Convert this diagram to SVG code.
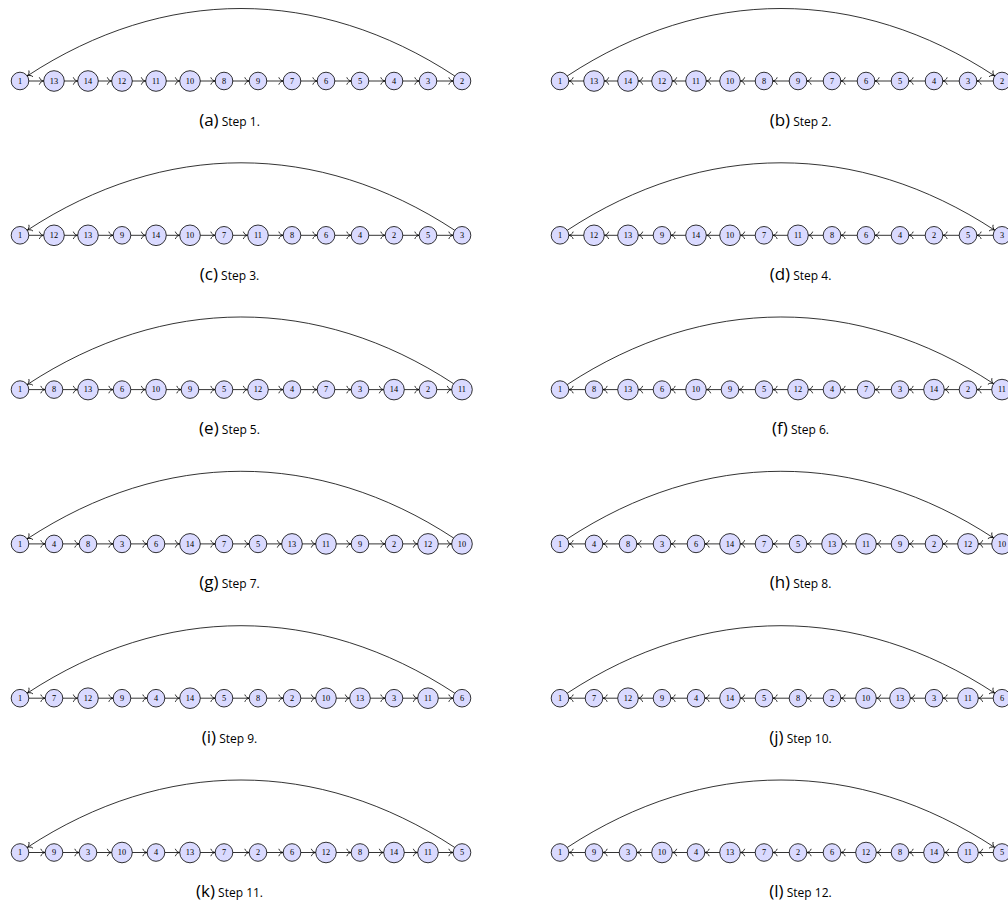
<svg xmlns="http://www.w3.org/2000/svg" width="1008" height="911" viewBox="0 0 1008 911">
<style>
.n circle{fill:#dadaff;stroke:#000;stroke-width:.8}
.n text{font-family:"Liberation Serif","DejaVu Serif",serif;font-size:8.3px;text-anchor:middle;fill:#000}
.c path{fill:none;stroke:#000;stroke-width:.8}
.ed{marker-end:url(#md)}
.es{marker-end:url(#ms)}
.ea{marker-end:url(#m0)}
.cap{font-family:"Open Sans",sans-serif;text-anchor:middle;fill:#000}
.cl{font-size:17px}
.cs{font-size:12px}
</style>
<defs>
<path id="ah" d="M-4.4-3.7C-3.8-1.3-1.5-.3 0 0C-1.5.3-3.8 1.3-4.4 3.7" fill="none" stroke="#000" stroke-width=".8"/>
<marker id="ms" markerUnits="userSpaceOnUse" markerWidth="10" markerHeight="10" refX="8.8" refY="0" orient="auto" overflow="visible"><use href="#ah"/></marker>
<marker id="md" markerUnits="userSpaceOnUse" markerWidth="10" markerHeight="10" refX="10.3" refY="0" orient="auto" overflow="visible"><use href="#ah"/></marker>
<marker id="m0" markerUnits="userSpaceOnUse" markerWidth="10" markerHeight="10" refX="0" refY="0" orient="auto" overflow="visible"><use href="#ah"/></marker>
</defs>
<rect width="1008" height="911" fill="#fff"/>
<g id="connectors" class="c">
<g transform="translate(0,0)">
<path class="ed" d="M20 81H54"/><path class="ed" d="M54 81H88"/><path class="ed" d="M88 81H122"/><path class="ed" d="M122 81H156"/><path class="ed" d="M156 81H190"/><path class="es" d="M190 81H224"/><path class="es" d="M224 81H258"/><path class="es" d="M258 81H292"/><path class="es" d="M292 81H326"/><path class="es" d="M326 81H360"/><path class="es" d="M360 81H394"/><path class="es" d="M394 81H428"/><path class="es" d="M428 81H462"/>
<path class="ea" d="M454.8 76C317.7-14 164.3-14 27.2 76"/>
</g>
<g transform="translate(540,0)">
<path class="es" d="M54 81H20"/><path class="ed" d="M88 81H54"/><path class="ed" d="M122 81H88"/><path class="ed" d="M156 81H122"/><path class="ed" d="M190 81H156"/><path class="ed" d="M224 81H190"/><path class="es" d="M258 81H224"/><path class="es" d="M292 81H258"/><path class="es" d="M326 81H292"/><path class="es" d="M360 81H326"/><path class="es" d="M394 81H360"/><path class="es" d="M428 81H394"/><path class="es" d="M462 81H428"/>
<path class="ea" d="M27.2 76C164.3-14 317.7-14 454.8 76"/>
</g>
<g transform="translate(0,154.3)">
<path class="ed" d="M20 81H54"/><path class="ed" d="M54 81H88"/><path class="es" d="M88 81H122"/><path class="ed" d="M122 81H156"/><path class="ed" d="M156 81H190"/><path class="es" d="M190 81H224"/><path class="ed" d="M224 81H258"/><path class="es" d="M258 81H292"/><path class="es" d="M292 81H326"/><path class="es" d="M326 81H360"/><path class="es" d="M360 81H394"/><path class="es" d="M394 81H428"/><path class="es" d="M428 81H462"/>
<path class="ea" d="M454.8 76C317.7-14 164.3-14 27.2 76"/>
</g>
<g transform="translate(540,154.3)">
<path class="es" d="M54 81H20"/><path class="ed" d="M88 81H54"/><path class="ed" d="M122 81H88"/><path class="es" d="M156 81H122"/><path class="ed" d="M190 81H156"/><path class="ed" d="M224 81H190"/><path class="es" d="M258 81H224"/><path class="ed" d="M292 81H258"/><path class="es" d="M326 81H292"/><path class="es" d="M360 81H326"/><path class="es" d="M394 81H360"/><path class="es" d="M428 81H394"/><path class="es" d="M462 81H428"/>
<path class="ea" d="M27.2 76C164.3-14 317.7-14 454.8 76"/>
</g>
<g transform="translate(0,308.6)">
<path class="es" d="M20 81H54"/><path class="ed" d="M54 81H88"/><path class="es" d="M88 81H122"/><path class="ed" d="M122 81H156"/><path class="es" d="M156 81H190"/><path class="es" d="M190 81H224"/><path class="ed" d="M224 81H258"/><path class="es" d="M258 81H292"/><path class="es" d="M292 81H326"/><path class="es" d="M326 81H360"/><path class="ed" d="M360 81H394"/><path class="es" d="M394 81H428"/><path class="ed" d="M428 81H462"/>
<path class="ea" d="M453.6 75.1C317.7-14 164.3-14 27.2 76"/>
</g>
<g transform="translate(540,308.6)">
<path class="es" d="M54 81H20"/><path class="es" d="M88 81H54"/><path class="ed" d="M122 81H88"/><path class="es" d="M156 81H122"/><path class="ed" d="M190 81H156"/><path class="es" d="M224 81H190"/><path class="es" d="M258 81H224"/><path class="ed" d="M292 81H258"/><path class="es" d="M326 81H292"/><path class="es" d="M360 81H326"/><path class="es" d="M394 81H360"/><path class="ed" d="M428 81H394"/><path class="es" d="M462 81H428"/>
<path class="ea" d="M27.2 76C164.3-14 317.7-14 453.6 75.1"/>
</g>
<g transform="translate(0,462.9)">
<path class="es" d="M20 81H54"/><path class="es" d="M54 81H88"/><path class="es" d="M88 81H122"/><path class="es" d="M122 81H156"/><path class="ed" d="M156 81H190"/><path class="es" d="M190 81H224"/><path class="es" d="M224 81H258"/><path class="ed" d="M258 81H292"/><path class="ed" d="M292 81H326"/><path class="es" d="M326 81H360"/><path class="es" d="M360 81H394"/><path class="ed" d="M394 81H428"/><path class="ed" d="M428 81H462"/>
<path class="ea" d="M453.6 75.1C317.7-14 164.3-14 27.2 76"/>
</g>
<g transform="translate(540,462.9)">
<path class="es" d="M54 81H20"/><path class="es" d="M88 81H54"/><path class="es" d="M122 81H88"/><path class="es" d="M156 81H122"/><path class="es" d="M190 81H156"/><path class="ed" d="M224 81H190"/><path class="es" d="M258 81H224"/><path class="es" d="M292 81H258"/><path class="ed" d="M326 81H292"/><path class="ed" d="M360 81H326"/><path class="es" d="M394 81H360"/><path class="es" d="M428 81H394"/><path class="ed" d="M462 81H428"/>
<path class="ea" d="M27.2 76C164.3-14 317.7-14 453.6 75.1"/>
</g>
<g transform="translate(0,617.2)">
<path class="es" d="M20 81H54"/><path class="ed" d="M54 81H88"/><path class="es" d="M88 81H122"/><path class="es" d="M122 81H156"/><path class="ed" d="M156 81H190"/><path class="es" d="M190 81H224"/><path class="es" d="M224 81H258"/><path class="es" d="M258 81H292"/><path class="ed" d="M292 81H326"/><path class="ed" d="M326 81H360"/><path class="es" d="M360 81H394"/><path class="ed" d="M394 81H428"/><path class="es" d="M428 81H462"/>
<path class="ea" d="M454.8 76C317.7-14 164.3-14 27.2 76"/>
</g>
<g transform="translate(540,617.2)">
<path class="es" d="M54 81H20"/><path class="es" d="M88 81H54"/><path class="ed" d="M122 81H88"/><path class="es" d="M156 81H122"/><path class="es" d="M190 81H156"/><path class="ed" d="M224 81H190"/><path class="es" d="M258 81H224"/><path class="es" d="M292 81H258"/><path class="es" d="M326 81H292"/><path class="ed" d="M360 81H326"/><path class="ed" d="M394 81H360"/><path class="es" d="M428 81H394"/><path class="ed" d="M462 81H428"/>
<path class="ea" d="M27.2 76C164.3-14 317.7-14 454.8 76"/>
</g>
<g transform="translate(0,771.5)">
<path class="es" d="M20 81H54"/><path class="es" d="M54 81H88"/><path class="ed" d="M88 81H122"/><path class="es" d="M122 81H156"/><path class="ed" d="M156 81H190"/><path class="es" d="M190 81H224"/><path class="es" d="M224 81H258"/><path class="es" d="M258 81H292"/><path class="ed" d="M292 81H326"/><path class="es" d="M326 81H360"/><path class="ed" d="M360 81H394"/><path class="ed" d="M394 81H428"/><path class="es" d="M428 81H462"/>
<path class="ea" d="M454.8 76C317.7-14 164.3-14 27.2 76"/>
</g>
<g transform="translate(540,771.5)">
<path class="es" d="M54 81H20"/><path class="es" d="M88 81H54"/><path class="es" d="M122 81H88"/><path class="ed" d="M156 81H122"/><path class="es" d="M190 81H156"/><path class="ed" d="M224 81H190"/><path class="es" d="M258 81H224"/><path class="es" d="M292 81H258"/><path class="es" d="M326 81H292"/><path class="ed" d="M360 81H326"/><path class="es" d="M394 81H360"/><path class="ed" d="M428 81H394"/><path class="ed" d="M462 81H428"/>
<path class="ea" d="M27.2 76C164.3-14 317.7-14 454.8 76"/>
</g>
</g>
<g id="nodes" class="n">
<g id="panel-a" transform="translate(0,0)">
<g id="a-1"><circle cx="20" cy="81" r="8.8"/><text x="20" y="83.9">1</text></g>
<g id="a-13"><circle cx="54" cy="81" r="10.3"/><text x="54" y="83.9">13</text></g>
<g id="a-14"><circle cx="88" cy="81" r="10.3"/><text x="88" y="83.9">14</text></g>
<g id="a-12"><circle cx="122" cy="81" r="10.3"/><text x="122" y="83.9">12</text></g>
<g id="a-11"><circle cx="156" cy="81" r="10.3"/><text x="156" y="83.9">11</text></g>
<g id="a-10"><circle cx="190" cy="81" r="10.3"/><text x="190" y="83.9">10</text></g>
<g id="a-8"><circle cx="224" cy="81" r="8.8"/><text x="224" y="83.9">8</text></g>
<g id="a-9"><circle cx="258" cy="81" r="8.8"/><text x="258" y="83.9">9</text></g>
<g id="a-7"><circle cx="292" cy="81" r="8.8"/><text x="292" y="83.9">7</text></g>
<g id="a-6"><circle cx="326" cy="81" r="8.8"/><text x="326" y="83.9">6</text></g>
<g id="a-5"><circle cx="360" cy="81" r="8.8"/><text x="360" y="83.9">5</text></g>
<g id="a-4"><circle cx="394" cy="81" r="8.8"/><text x="394" y="83.9">4</text></g>
<g id="a-3"><circle cx="428" cy="81" r="8.8"/><text x="428" y="83.9">3</text></g>
<g id="a-2"><circle cx="462" cy="81" r="8.8"/><text x="462" y="83.9">2</text></g>
</g>
<g id="panel-b" transform="translate(540,0)">
<g id="b-1"><circle cx="20" cy="81" r="8.8"/><text x="20" y="83.9">1</text></g>
<g id="b-13"><circle cx="54" cy="81" r="10.3"/><text x="54" y="83.9">13</text></g>
<g id="b-14"><circle cx="88" cy="81" r="10.3"/><text x="88" y="83.9">14</text></g>
<g id="b-12"><circle cx="122" cy="81" r="10.3"/><text x="122" y="83.9">12</text></g>
<g id="b-11"><circle cx="156" cy="81" r="10.3"/><text x="156" y="83.9">11</text></g>
<g id="b-10"><circle cx="190" cy="81" r="10.3"/><text x="190" y="83.9">10</text></g>
<g id="b-8"><circle cx="224" cy="81" r="8.8"/><text x="224" y="83.9">8</text></g>
<g id="b-9"><circle cx="258" cy="81" r="8.8"/><text x="258" y="83.9">9</text></g>
<g id="b-7"><circle cx="292" cy="81" r="8.8"/><text x="292" y="83.9">7</text></g>
<g id="b-6"><circle cx="326" cy="81" r="8.8"/><text x="326" y="83.9">6</text></g>
<g id="b-5"><circle cx="360" cy="81" r="8.8"/><text x="360" y="83.9">5</text></g>
<g id="b-4"><circle cx="394" cy="81" r="8.8"/><text x="394" y="83.9">4</text></g>
<g id="b-3"><circle cx="428" cy="81" r="8.8"/><text x="428" y="83.9">3</text></g>
<g id="b-2"><circle cx="462" cy="81" r="8.8"/><text x="462" y="83.9">2</text></g>
</g>
<g id="panel-c" transform="translate(0,154.3)">
<g id="c-1"><circle cx="20" cy="81" r="8.8"/><text x="20" y="83.9">1</text></g>
<g id="c-12"><circle cx="54" cy="81" r="10.3"/><text x="54" y="83.9">12</text></g>
<g id="c-13"><circle cx="88" cy="81" r="10.3"/><text x="88" y="83.9">13</text></g>
<g id="c-9"><circle cx="122" cy="81" r="8.8"/><text x="122" y="83.9">9</text></g>
<g id="c-14"><circle cx="156" cy="81" r="10.3"/><text x="156" y="83.9">14</text></g>
<g id="c-10"><circle cx="190" cy="81" r="10.3"/><text x="190" y="83.9">10</text></g>
<g id="c-7"><circle cx="224" cy="81" r="8.8"/><text x="224" y="83.9">7</text></g>
<g id="c-11"><circle cx="258" cy="81" r="10.3"/><text x="258" y="83.9">11</text></g>
<g id="c-8"><circle cx="292" cy="81" r="8.8"/><text x="292" y="83.9">8</text></g>
<g id="c-6"><circle cx="326" cy="81" r="8.8"/><text x="326" y="83.9">6</text></g>
<g id="c-4"><circle cx="360" cy="81" r="8.8"/><text x="360" y="83.9">4</text></g>
<g id="c-2"><circle cx="394" cy="81" r="8.8"/><text x="394" y="83.9">2</text></g>
<g id="c-5"><circle cx="428" cy="81" r="8.8"/><text x="428" y="83.9">5</text></g>
<g id="c-3"><circle cx="462" cy="81" r="8.8"/><text x="462" y="83.9">3</text></g>
</g>
<g id="panel-d" transform="translate(540,154.3)">
<g id="d-1"><circle cx="20" cy="81" r="8.8"/><text x="20" y="83.9">1</text></g>
<g id="d-12"><circle cx="54" cy="81" r="10.3"/><text x="54" y="83.9">12</text></g>
<g id="d-13"><circle cx="88" cy="81" r="10.3"/><text x="88" y="83.9">13</text></g>
<g id="d-9"><circle cx="122" cy="81" r="8.8"/><text x="122" y="83.9">9</text></g>
<g id="d-14"><circle cx="156" cy="81" r="10.3"/><text x="156" y="83.9">14</text></g>
<g id="d-10"><circle cx="190" cy="81" r="10.3"/><text x="190" y="83.9">10</text></g>
<g id="d-7"><circle cx="224" cy="81" r="8.8"/><text x="224" y="83.9">7</text></g>
<g id="d-11"><circle cx="258" cy="81" r="10.3"/><text x="258" y="83.9">11</text></g>
<g id="d-8"><circle cx="292" cy="81" r="8.8"/><text x="292" y="83.9">8</text></g>
<g id="d-6"><circle cx="326" cy="81" r="8.8"/><text x="326" y="83.9">6</text></g>
<g id="d-4"><circle cx="360" cy="81" r="8.8"/><text x="360" y="83.9">4</text></g>
<g id="d-2"><circle cx="394" cy="81" r="8.8"/><text x="394" y="83.9">2</text></g>
<g id="d-5"><circle cx="428" cy="81" r="8.8"/><text x="428" y="83.9">5</text></g>
<g id="d-3"><circle cx="462" cy="81" r="8.8"/><text x="462" y="83.9">3</text></g>
</g>
<g id="panel-e" transform="translate(0,308.6)">
<g id="e-1"><circle cx="20" cy="81" r="8.8"/><text x="20" y="83.9">1</text></g>
<g id="e-8"><circle cx="54" cy="81" r="8.8"/><text x="54" y="83.9">8</text></g>
<g id="e-13"><circle cx="88" cy="81" r="10.3"/><text x="88" y="83.9">13</text></g>
<g id="e-6"><circle cx="122" cy="81" r="8.8"/><text x="122" y="83.9">6</text></g>
<g id="e-10"><circle cx="156" cy="81" r="10.3"/><text x="156" y="83.9">10</text></g>
<g id="e-9"><circle cx="190" cy="81" r="8.8"/><text x="190" y="83.9">9</text></g>
<g id="e-5"><circle cx="224" cy="81" r="8.8"/><text x="224" y="83.9">5</text></g>
<g id="e-12"><circle cx="258" cy="81" r="10.3"/><text x="258" y="83.9">12</text></g>
<g id="e-4"><circle cx="292" cy="81" r="8.8"/><text x="292" y="83.9">4</text></g>
<g id="e-7"><circle cx="326" cy="81" r="8.8"/><text x="326" y="83.9">7</text></g>
<g id="e-3"><circle cx="360" cy="81" r="8.8"/><text x="360" y="83.9">3</text></g>
<g id="e-14"><circle cx="394" cy="81" r="10.3"/><text x="394" y="83.9">14</text></g>
<g id="e-2"><circle cx="428" cy="81" r="8.8"/><text x="428" y="83.9">2</text></g>
<g id="e-11"><circle cx="462" cy="81" r="10.3"/><text x="462" y="83.9">11</text></g>
</g>
<g id="panel-f" transform="translate(540,308.6)">
<g id="f-1"><circle cx="20" cy="81" r="8.8"/><text x="20" y="83.9">1</text></g>
<g id="f-8"><circle cx="54" cy="81" r="8.8"/><text x="54" y="83.9">8</text></g>
<g id="f-13"><circle cx="88" cy="81" r="10.3"/><text x="88" y="83.9">13</text></g>
<g id="f-6"><circle cx="122" cy="81" r="8.8"/><text x="122" y="83.9">6</text></g>
<g id="f-10"><circle cx="156" cy="81" r="10.3"/><text x="156" y="83.9">10</text></g>
<g id="f-9"><circle cx="190" cy="81" r="8.8"/><text x="190" y="83.9">9</text></g>
<g id="f-5"><circle cx="224" cy="81" r="8.8"/><text x="224" y="83.9">5</text></g>
<g id="f-12"><circle cx="258" cy="81" r="10.3"/><text x="258" y="83.9">12</text></g>
<g id="f-4"><circle cx="292" cy="81" r="8.8"/><text x="292" y="83.9">4</text></g>
<g id="f-7"><circle cx="326" cy="81" r="8.8"/><text x="326" y="83.9">7</text></g>
<g id="f-3"><circle cx="360" cy="81" r="8.8"/><text x="360" y="83.9">3</text></g>
<g id="f-14"><circle cx="394" cy="81" r="10.3"/><text x="394" y="83.9">14</text></g>
<g id="f-2"><circle cx="428" cy="81" r="8.8"/><text x="428" y="83.9">2</text></g>
<g id="f-11"><circle cx="462" cy="81" r="10.3"/><text x="462" y="83.9">11</text></g>
</g>
<g id="panel-g" transform="translate(0,462.9)">
<g id="g-1"><circle cx="20" cy="81" r="8.8"/><text x="20" y="83.9">1</text></g>
<g id="g-4"><circle cx="54" cy="81" r="8.8"/><text x="54" y="83.9">4</text></g>
<g id="g-8"><circle cx="88" cy="81" r="8.8"/><text x="88" y="83.9">8</text></g>
<g id="g-3"><circle cx="122" cy="81" r="8.8"/><text x="122" y="83.9">3</text></g>
<g id="g-6"><circle cx="156" cy="81" r="8.8"/><text x="156" y="83.9">6</text></g>
<g id="g-14"><circle cx="190" cy="81" r="10.3"/><text x="190" y="83.9">14</text></g>
<g id="g-7"><circle cx="224" cy="81" r="8.8"/><text x="224" y="83.9">7</text></g>
<g id="g-5"><circle cx="258" cy="81" r="8.8"/><text x="258" y="83.9">5</text></g>
<g id="g-13"><circle cx="292" cy="81" r="10.3"/><text x="292" y="83.9">13</text></g>
<g id="g-11"><circle cx="326" cy="81" r="10.3"/><text x="326" y="83.9">11</text></g>
<g id="g-9"><circle cx="360" cy="81" r="8.8"/><text x="360" y="83.9">9</text></g>
<g id="g-2"><circle cx="394" cy="81" r="8.8"/><text x="394" y="83.9">2</text></g>
<g id="g-12"><circle cx="428" cy="81" r="10.3"/><text x="428" y="83.9">12</text></g>
<g id="g-10"><circle cx="462" cy="81" r="10.3"/><text x="462" y="83.9">10</text></g>
</g>
<g id="panel-h" transform="translate(540,462.9)">
<g id="h-1"><circle cx="20" cy="81" r="8.8"/><text x="20" y="83.9">1</text></g>
<g id="h-4"><circle cx="54" cy="81" r="8.8"/><text x="54" y="83.9">4</text></g>
<g id="h-8"><circle cx="88" cy="81" r="8.8"/><text x="88" y="83.9">8</text></g>
<g id="h-3"><circle cx="122" cy="81" r="8.8"/><text x="122" y="83.9">3</text></g>
<g id="h-6"><circle cx="156" cy="81" r="8.8"/><text x="156" y="83.9">6</text></g>
<g id="h-14"><circle cx="190" cy="81" r="10.3"/><text x="190" y="83.9">14</text></g>
<g id="h-7"><circle cx="224" cy="81" r="8.8"/><text x="224" y="83.9">7</text></g>
<g id="h-5"><circle cx="258" cy="81" r="8.8"/><text x="258" y="83.9">5</text></g>
<g id="h-13"><circle cx="292" cy="81" r="10.3"/><text x="292" y="83.9">13</text></g>
<g id="h-11"><circle cx="326" cy="81" r="10.3"/><text x="326" y="83.9">11</text></g>
<g id="h-9"><circle cx="360" cy="81" r="8.8"/><text x="360" y="83.9">9</text></g>
<g id="h-2"><circle cx="394" cy="81" r="8.8"/><text x="394" y="83.9">2</text></g>
<g id="h-12"><circle cx="428" cy="81" r="10.3"/><text x="428" y="83.9">12</text></g>
<g id="h-10"><circle cx="462" cy="81" r="10.3"/><text x="462" y="83.9">10</text></g>
</g>
<g id="panel-i" transform="translate(0,617.2)">
<g id="i-1"><circle cx="20" cy="81" r="8.8"/><text x="20" y="83.9">1</text></g>
<g id="i-7"><circle cx="54" cy="81" r="8.8"/><text x="54" y="83.9">7</text></g>
<g id="i-12"><circle cx="88" cy="81" r="10.3"/><text x="88" y="83.9">12</text></g>
<g id="i-9"><circle cx="122" cy="81" r="8.8"/><text x="122" y="83.9">9</text></g>
<g id="i-4"><circle cx="156" cy="81" r="8.8"/><text x="156" y="83.9">4</text></g>
<g id="i-14"><circle cx="190" cy="81" r="10.3"/><text x="190" y="83.9">14</text></g>
<g id="i-5"><circle cx="224" cy="81" r="8.8"/><text x="224" y="83.9">5</text></g>
<g id="i-8"><circle cx="258" cy="81" r="8.8"/><text x="258" y="83.9">8</text></g>
<g id="i-2"><circle cx="292" cy="81" r="8.8"/><text x="292" y="83.9">2</text></g>
<g id="i-10"><circle cx="326" cy="81" r="10.3"/><text x="326" y="83.9">10</text></g>
<g id="i-13"><circle cx="360" cy="81" r="10.3"/><text x="360" y="83.9">13</text></g>
<g id="i-3"><circle cx="394" cy="81" r="8.8"/><text x="394" y="83.9">3</text></g>
<g id="i-11"><circle cx="428" cy="81" r="10.3"/><text x="428" y="83.9">11</text></g>
<g id="i-6"><circle cx="462" cy="81" r="8.8"/><text x="462" y="83.9">6</text></g>
</g>
<g id="panel-j" transform="translate(540,617.2)">
<g id="j-1"><circle cx="20" cy="81" r="8.8"/><text x="20" y="83.9">1</text></g>
<g id="j-7"><circle cx="54" cy="81" r="8.8"/><text x="54" y="83.9">7</text></g>
<g id="j-12"><circle cx="88" cy="81" r="10.3"/><text x="88" y="83.9">12</text></g>
<g id="j-9"><circle cx="122" cy="81" r="8.8"/><text x="122" y="83.9">9</text></g>
<g id="j-4"><circle cx="156" cy="81" r="8.8"/><text x="156" y="83.9">4</text></g>
<g id="j-14"><circle cx="190" cy="81" r="10.3"/><text x="190" y="83.9">14</text></g>
<g id="j-5"><circle cx="224" cy="81" r="8.8"/><text x="224" y="83.9">5</text></g>
<g id="j-8"><circle cx="258" cy="81" r="8.8"/><text x="258" y="83.9">8</text></g>
<g id="j-2"><circle cx="292" cy="81" r="8.8"/><text x="292" y="83.9">2</text></g>
<g id="j-10"><circle cx="326" cy="81" r="10.3"/><text x="326" y="83.9">10</text></g>
<g id="j-13"><circle cx="360" cy="81" r="10.3"/><text x="360" y="83.9">13</text></g>
<g id="j-3"><circle cx="394" cy="81" r="8.8"/><text x="394" y="83.9">3</text></g>
<g id="j-11"><circle cx="428" cy="81" r="10.3"/><text x="428" y="83.9">11</text></g>
<g id="j-6"><circle cx="462" cy="81" r="8.8"/><text x="462" y="83.9">6</text></g>
</g>
<g id="panel-k" transform="translate(0,771.5)">
<g id="k-1"><circle cx="20" cy="81" r="8.8"/><text x="20" y="83.9">1</text></g>
<g id="k-9"><circle cx="54" cy="81" r="8.8"/><text x="54" y="83.9">9</text></g>
<g id="k-3"><circle cx="88" cy="81" r="8.8"/><text x="88" y="83.9">3</text></g>
<g id="k-10"><circle cx="122" cy="81" r="10.3"/><text x="122" y="83.9">10</text></g>
<g id="k-4"><circle cx="156" cy="81" r="8.8"/><text x="156" y="83.9">4</text></g>
<g id="k-13"><circle cx="190" cy="81" r="10.3"/><text x="190" y="83.9">13</text></g>
<g id="k-7"><circle cx="224" cy="81" r="8.8"/><text x="224" y="83.9">7</text></g>
<g id="k-2"><circle cx="258" cy="81" r="8.8"/><text x="258" y="83.9">2</text></g>
<g id="k-6"><circle cx="292" cy="81" r="8.8"/><text x="292" y="83.9">6</text></g>
<g id="k-12"><circle cx="326" cy="81" r="10.3"/><text x="326" y="83.9">12</text></g>
<g id="k-8"><circle cx="360" cy="81" r="8.8"/><text x="360" y="83.9">8</text></g>
<g id="k-14"><circle cx="394" cy="81" r="10.3"/><text x="394" y="83.9">14</text></g>
<g id="k-11"><circle cx="428" cy="81" r="10.3"/><text x="428" y="83.9">11</text></g>
<g id="k-5"><circle cx="462" cy="81" r="8.8"/><text x="462" y="83.9">5</text></g>
</g>
<g id="panel-l" transform="translate(540,771.5)">
<g id="l-1"><circle cx="20" cy="81" r="8.8"/><text x="20" y="83.9">1</text></g>
<g id="l-9"><circle cx="54" cy="81" r="8.8"/><text x="54" y="83.9">9</text></g>
<g id="l-3"><circle cx="88" cy="81" r="8.8"/><text x="88" y="83.9">3</text></g>
<g id="l-10"><circle cx="122" cy="81" r="10.3"/><text x="122" y="83.9">10</text></g>
<g id="l-4"><circle cx="156" cy="81" r="8.8"/><text x="156" y="83.9">4</text></g>
<g id="l-13"><circle cx="190" cy="81" r="10.3"/><text x="190" y="83.9">13</text></g>
<g id="l-7"><circle cx="224" cy="81" r="8.8"/><text x="224" y="83.9">7</text></g>
<g id="l-2"><circle cx="258" cy="81" r="8.8"/><text x="258" y="83.9">2</text></g>
<g id="l-6"><circle cx="292" cy="81" r="8.8"/><text x="292" y="83.9">6</text></g>
<g id="l-12"><circle cx="326" cy="81" r="10.3"/><text x="326" y="83.9">12</text></g>
<g id="l-8"><circle cx="360" cy="81" r="8.8"/><text x="360" y="83.9">8</text></g>
<g id="l-14"><circle cx="394" cy="81" r="10.3"/><text x="394" y="83.9">14</text></g>
<g id="l-11"><circle cx="428" cy="81" r="10.3"/><text x="428" y="83.9">11</text></g>
<g id="l-5"><circle cx="462" cy="81" r="8.8"/><text x="462" y="83.9">5</text></g>
</g>
</g>
<g id="captions" class="cap">
<text x="229.5" y="125.5"><tspan class="cl">(a)</tspan><tspan class="cs"> Step 1.</tspan></text>
<text x="800.5" y="125.5"><tspan class="cl">(b)</tspan><tspan class="cs"> Step 2.</tspan></text>
<text x="229.5" y="279.8"><tspan class="cl">(c)</tspan><tspan class="cs"> Step 3.</tspan></text>
<text x="800.5" y="279.8"><tspan class="cl">(d)</tspan><tspan class="cs"> Step 4.</tspan></text>
<text x="229.5" y="434.1"><tspan class="cl">(e)</tspan><tspan class="cs"> Step 5.</tspan></text>
<text x="800.5" y="434.1"><tspan class="cl">(f)</tspan><tspan class="cs"> Step 6.</tspan></text>
<text x="229.5" y="588.4"><tspan class="cl">(g)</tspan><tspan class="cs"> Step 7.</tspan></text>
<text x="800.5" y="588.4"><tspan class="cl">(h)</tspan><tspan class="cs"> Step 8.</tspan></text>
<text x="229.5" y="742.7"><tspan class="cl">(i)</tspan><tspan class="cs"> Step 9.</tspan></text>
<text x="800.5" y="742.7"><tspan class="cl">(j)</tspan><tspan class="cs"> Step 10.</tspan></text>
<text x="229.5" y="897"><tspan class="cl">(k)</tspan><tspan class="cs"> Step 11.</tspan></text>
<text x="800.5" y="897"><tspan class="cl">(l)</tspan><tspan class="cs"> Step 12.</tspan></text>
</g>
</svg>
